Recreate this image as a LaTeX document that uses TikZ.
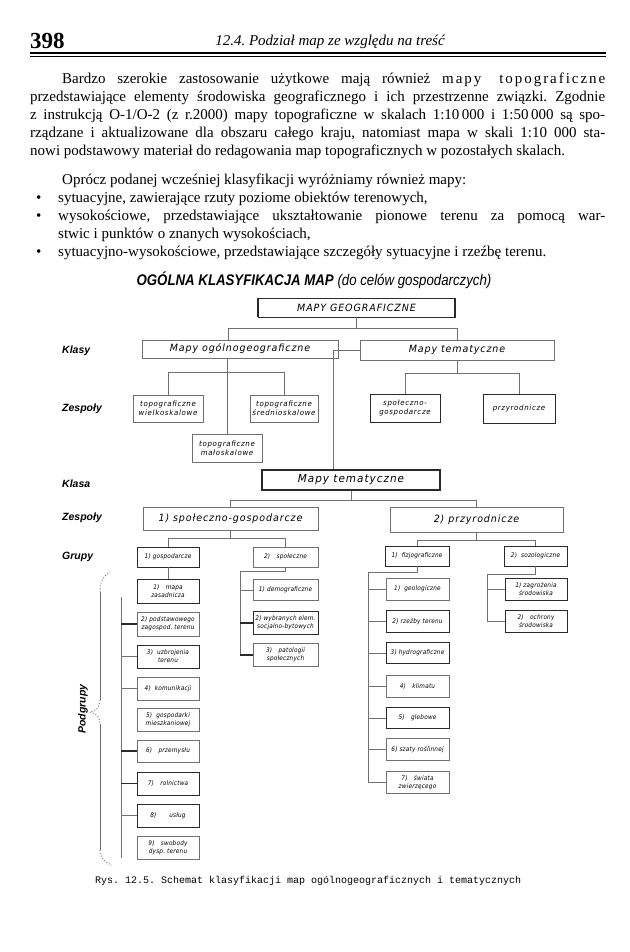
\documentclass[tikz,border=0pt]{standalone}
\usepackage{fontspec}
\setmainfont{Liberation Serif}
\newfontfamily\arialfont{Liberation Sans}
\newfontfamily\narrowfont{Liberation Sans}[FakeStretch=0.86]
\newfontfamily\techfont{DejaVu Sans}[FakeStretch=0.9, LetterSpace=3]
\newfontfamily\techwide{DejaVu Sans}[FakeStretch=0.95, LetterSpace=9]
\newfontfamily\monofont{Liberation Mono}
\usetikzlibrary{positioning, calc}
\definecolor{scan}{HTML}{2A2A2A}
\definecolor{scanlight}{HTML}{707070}
\newcommand{\jline}[2]{\makebox[#1][s]{#2}}
\frenchspacing
\tikzset{
  tbox/.style={draw=scanlight, line width=0.5pt, inner sep=1pt, align=center,
               font=\techfont\itshape\fontsize{6.4}{7.8}\selectfont},
  kbox/.style={tbox, draw=scan, line width=0.85pt},
  zbox/.style={tbox, font=\techwide\itshape\fontsize{7.4}{9.4}\selectfont},
  wbox/.style={tbox, font=\techwide\itshape\fontsize{10}{11}\selectfont},
  txt/.style={anchor=base west, inner sep=0pt, font=\fontsize{15}{18}\selectfont},
  lbl/.style={anchor=west, inner sep=0pt, font=\arialfont\bfseries\itshape\fontsize{10.5}{12}\selectfont},
}

\begin{document}
\begin{tikzpicture}[x=1pt, y=-1pt,
    ln/.style={draw=scanlight, line width=0.5pt},
    lnb/.style={draw=scan, line width=1.2pt}]
  \fill[white] (0,0) rectangle (629,952);
  \useasboundingbox (0,0) rectangle (629,952);

  % page head
  \node[anchor=base west, inner sep=0pt, font=\bfseries\fontsize{23}{26}\selectfont] (pageno) at (30,49) {398};
  \node[anchor=base, inner sep=0pt, font=\itshape\fontsize{15}{18}\selectfont] (runhead) at (330,46) {12.4. Podział map ze względu na treść};
  \draw[line width=1.3pt] (30,53) -- (606,53);
  \draw[line width=0.4pt] (30,56) -- (606,56);

  % text above the figure
  \node[txt] (l1) at (62,84) {\jline{543pt}{Bardzo szerokie zastosowanie użytkowe mają również {\addfontfeature{LetterSpace=13}mapy topograficzne}}};
  \node[txt] (l2) at (30,102) {\jline{575pt}{przedstawiające elementy środowiska geograficznego i ich przestrzenne związki. Zgodnie}};
  \node[txt] (l3) at (30,120) {\jline{575pt}{z instrukcją O-1/O-2 (z r.2000) mapy topograficzne w skalach 1:10\,000 i 1:50\,000 są spo-}};
  \node[txt] (l4) at (30,138) {\jline{575pt}{rządzane i aktualizowane dla obszaru całego kraju, natomiast mapa w skali 1:10 000 sta-}};
  \node[txt] (l5) at (30,156) {nowi podstawowy materiał do redagowania map topograficznych w pozostałych skalach.};
  \node[txt] (l6) at (62,184) {Oprócz podanej wcześniej klasyfikacji wyróżniamy również mapy:};
  \foreach \yy in {202,220,256}
    \node[txt] at (36,\yy) {\textbullet};
  \node[txt] (b1) at (58,202) {sytuacyjne, zawierające rzuty poziome obiektów terenowych,};
  \node[txt] (b2) at (58,220) {\jline{547pt}{wysokościowe, przedstawiające ukształtowanie pionowe terenu za pomocą war-}};
  \node[txt] (b2b) at (58,238) {stwic i punktów o znanych wysokościach,};
  \node[txt] (b3) at (58,256) {sytuacyjno-wysokościowe, przedstawiające szczegóły sytuacyjne i rzeźbę terenu.};

  % title
  \node[inner sep=0pt, font=\narrowfont\itshape\fontsize{15.4}{17}\selectfont] (title) at (314,280)
    {\textbf{OGÓLNA KLASYFIKACJA MAP} (do celów gospodarczych)};

  % row labels
  \node[lbl] (klasy) at (62,351) {Klasy};
  \node[lbl] (zesp1) at (62,409) {Zespoły};
  \node[lbl] (klasa) at (62,484) {Klasa};
  \node[lbl] (zesp2) at (62,518) {Zespoły};
  \node[lbl] (grupy) at (62,557) {Grupy};

  % upper tree
  \node[wbox, draw=scan, minimum width=197, minimum height=19] (geo) at (356.5,307.5) {MAPY GEOGRAFICZNE};
  \draw[scan, line width=2pt] (geo.north west) -- (geo.south west) (geo.north east) -- (geo.south east);
  \node[wbox, minimum width=196, minimum height=18] (ogolno) at (240,349) {Mapy ogólnogeograficzne};
  \node[wbox, minimum width=194, minimum height=20] (tema1) at (457,350) {Mapy tematyczne};
  \node[zbox, minimum width=70, minimum height=27] (wielko) at (168,408.5) {topograficzne\\wielkoskalowe};
  \node[zbox, minimum width=68, minimum height=27] (srednio) at (284,408.5) {topograficzne\\średnioskalowe};
  \node[zbox, minimum width=70, minimum height=28] (malo) at (227,448) {topograficzne\\małoskalowe};
  \node[zbox, draw=scan, line width=0.85pt, minimum width=70, minimum height=28] (spgosp) at (405,408) {społeczno-\\gospodarcze};
  \node[zbox, draw=scan, line width=0.85pt, minimum width=72, minimum height=29] (przyr) at (519,408.5) {przyrodnicze};

  \draw[ln] (geo.south) -- ++(0,11) coordinate (gj) -| ([xshift=-12]ogolno.north);
  \draw[ln] (gj) -| (tema1.north);
  \draw[ln] (malo.north |- ogolno.south) -- (malo.north);
  \coordinate (oj) at ($(malo.north |- ogolno.south)+(0,14)$);
  \draw[ln] (wielko.north) |- (oj) -| (srednio.north);
  \draw[ln] (tema1.south) -- ++(0,13) coordinate (tj);
  \draw[ln] (spgosp.north) |- (tj) -| (przyr.north);

  % lower tree
  \node[wbox, draw=scan, line width=1.4pt, minimum width=178, minimum height=20,
        font=\techwide\itshape\fontsize{11}{12}\selectfont] (tema2) at (351,480) {Mapy tematyczne};
  \draw[ln] (tema1.west) -| ([xshift=-18]tema2.north);
  \node[wbox, minimum width=175, minimum height=23] (spg) at (230.5,518.5) {1) społeczno-gospodarcze};
  \node[wbox, minimum width=173, minimum height=25] (prz) at (476.5,519.5) {2) przyrodnicze};
  \draw[ln] (tema2.south) -- ++(0,10) coordinate (kj);
  \draw[ln] (spg.north) |- (kj) -| (prz.north);

  \node[kbox, minimum width=62, minimum height=20] (gosp) at (168,557) {1) gospodarcze};
  \node[tbox, minimum width=65, minimum height=20] (spol) at (285.5,557) {2)\quad społeczne};
  \node[kbox, minimum width=64, minimum height=20] (fizjo) at (417,556) {1)\ \ fizjograficzne};
  \node[kbox, minimum width=63, minimum height=20] (sozo) at (535.5,556) {2)\ \ sozologiczne};
  \draw[ln] (spg.south) -- ++(0,8) coordinate (ej);
  \draw[ln] (gosp.north) |- (ej) -| (spol.north);
  \draw[ln] (prz.south) -- ++(0,8) coordinate (rj);
  \draw[ln] (fizjo.north) |- (rj) -| (sozo.north);

  % podgrupy: gospodarcze
  \node[kbox, minimum width=62, minimum height=24] (g1) at (168,591)   {1)\quad mapa\\zasadnicza};
  \node[tbox, minimum width=62, minimum height=24] (g2) at (168,624)   {2) podstawowego\\zagospod. terenu};
  \node[kbox, minimum width=62, minimum height=23] (g3) at (168,656.5) {3)\ \ uzbrojenia\\terenu};
  \node[tbox, minimum width=62, minimum height=23] (g4) at (168,688.5) {4)\ \ komunikacji};
  \node[tbox, minimum width=62, minimum height=23] (g5) at (168,719.5) {5)\ \ gospodarki\\mieszkaniowej};
  \node[tbox, minimum width=62, minimum height=22] (g6) at (168,751)   {6)\quad przemysłu};
  \node[kbox, minimum width=62, minimum height=23] (g7) at (168,783.5) {7)\quad rolnictwa};
  \node[kbox, minimum width=62, minimum height=23] (g8) at (168,815.5) {8)\qquad usług};
  \node[tbox, minimum width=62, minimum height=23] (g9) at (168,847.5) {9)\quad swobody\\dysp. terenu};
  \draw[ln] (gosp.south) -- (g1.north);
  \coordinate (gtop) at (121,597);
  \coordinate (gbot) at (121,858);
  \draw[ln] (gtop) -- (gbot);
  \foreach \b in {g3,g4,g8}
    \draw[ln] (\b.west -| gtop) -- (\b.west);
  \foreach \b in {g2,g6,g7}
    \draw[lnb] (\b.west -| gtop) -- (\b.west);

  % podgrupy: spoleczne
  \node[tbox, minimum width=65, minimum height=21] (s1) at (285.5,590) {1)\ demograficzne};
  \node[kbox, minimum width=65, minimum height=23] (s2) at (285.5,623) {2) wybranych elem.\\socjalno-bytowych};
  \node[tbox, minimum width=65, minimum height=23] (s3) at (285.5,655) {3)\quad patologii\\społecznych};
  \draw[ln] (spol.south) |- (240,571) coordinate (sp) -- (sp |- s3.west);
  \draw[ln] (sp |- s1.west) -- (s1.west);
  \foreach \b in {s2,s3}
    \draw[lnb] (\b.west -| sp) -- (\b.west);

  % podgrupy: fizjograficzne
  \node[tbox, minimum width=63, minimum height=22] (f1) at (417.5,589)   {1)\ \ geologiczne};
  \node[kbox, minimum width=63, minimum height=22] (f2) at (417.5,621.5) {2) rzeźby terenu};
  \node[kbox, minimum width=63, minimum height=21] (f3) at (417.5,653)   {3) hydrograficzne};
  \node[tbox, minimum width=63, minimum height=22] (f4) at (417.5,686)   {4)\quad klimatu};
  \node[kbox, minimum width=63, minimum height=21] (f5) at (417.5,718)   {5)\quad glebowe};
  \node[tbox, minimum width=63, minimum height=22] (f6) at (417.5,749.5) {6) szaty roślinnej};
  \node[tbox, minimum width=63, minimum height=22] (f7) at (417.5,782.5) {7)\quad świata\\zwierzęcego};
  \draw[ln] (fizjo.south) |- (368,572) coordinate (fp) -- (fp |- f7.west) -- (f7.west);
  \foreach \b in {f1,f2,f3,f4,f5,f6}
    \draw[ln] (\b.west -| fp) -- (\b.west);

  % podgrupy: sozologiczne
  \node[kbox, minimum width=62, minimum height=22] (z1) at (536,589)   {1)\ zagrożenia\\środowiska};
  \node[kbox, minimum width=62, minimum height=22] (z2) at (536,621.5) {2)\quad ochrony\\środowiska};
  \draw[ln] (sozo.south) |- (487,574) coordinate (zp) -- (zp |- z2.west) -- (z2.west);
  \draw[ln] (z1.west -| zp) -- (z1.west);

  % podgrupy brace
  \draw[scanlight, line width=0.5pt] (100,592) -- (100,700) (100,724) -- (100,850);
  \draw[scanlight, dotted, line width=0.9pt] (100,592) .. controls (100,580) and (104,576) .. (110,572);
  \draw[scanlight, dotted, line width=0.9pt] (100,700) .. controls (100,707) and (96,711) .. (90,712)
    .. controls (96,713) and (100,717) .. (100,724);
  \draw[scanlight, dotted, line width=0.9pt] (100,850) .. controls (100,858) and (104,862) .. (112,865);
  \node[rotate=90, inner sep=0pt, font=\arialfont\bfseries\itshape\fontsize{10.5}{12}\selectfont] (podgr) at (83,709) {Podgrupy};

  % caption
  \node[anchor=base west, inner sep=0pt, font=\monofont\fontsize{10}{12}\selectfont] (caption) at (95,883)
    {Rys. 12.5. Schemat klasyfikacji map ogólnogeograficznych i tematycznych};
\end{tikzpicture}
\end{document}
